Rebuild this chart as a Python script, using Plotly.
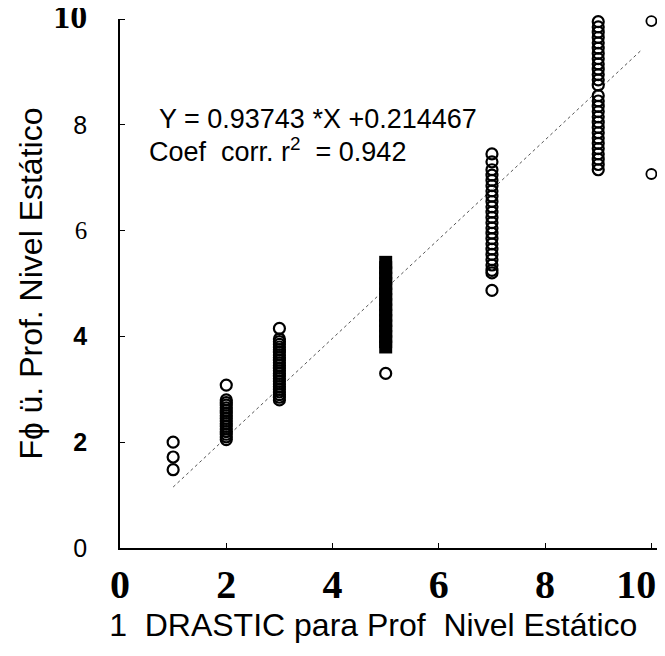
import plotly.graph_objects as go

# --- data ---
x1 = [1, 1, 1]
y1 = [2.0, 1.72, 1.48]

x2_y = [3.08, 2.80, 2.75, 2.70, 2.65, 2.60, 2.55, 2.50, 2.45, 2.40, 2.35, 2.30,
        2.25, 2.20, 2.15, 2.10, 2.05]
x3_y = [4.15, 3.95, 3.90, 3.85, 3.80, 3.75, 3.70, 3.65, 3.60, 3.55, 3.50, 3.45,
        3.40, 3.35, 3.30, 3.25, 3.20, 3.15, 3.10, 3.05, 3.00, 2.95, 2.90, 2.85, 2.80]
x5_bar = [5.40, 5.30, 5.20, 5.10, 5.00, 4.90, 4.80, 4.70, 4.60, 4.50, 4.40,
          4.30, 4.20, 4.10, 4.00, 3.90, 3.80]
x5_out = [3.30]
x7_y = [7.45, 7.30, 7.15, 7.05, 6.95, 6.85, 6.75, 6.65, 6.55, 6.45, 6.35, 6.25,
        6.15, 6.05, 5.95, 5.85, 5.75, 5.65, 5.55, 5.45, 5.35, 5.25, 5.20, 4.87]
x9_y = [9.95, 9.85, 9.75, 9.65, 9.55, 9.45, 9.35, 9.25, 9.15, 9.05, 8.95, 8.85,
        8.75, 8.55, 8.45, 8.35, 8.25, 8.15, 8.05, 7.95, 7.85, 7.75, 7.65, 7.55,
        7.45, 7.35, 7.25, 7.15]
x10_y = [9.96, 7.07]

slope = 0.93743
intercept = 0.214467
line_x = [1.0, 9.8]

xticks = [0, 2, 4, 6, 8, 10]
yticks = [0, 2, 4, 6, 8, 10]

fig = go.Figure()

circ = dict(symbol="circle-open", size=11, color="black", line=dict(width=2.2, color="black"))

fig.add_trace(go.Scatter(
    x=line_x, y=[slope * v + intercept for v in line_x], mode="lines",
    line=dict(color="#555555", width=1, dash="dot"), hoverinfo="skip"))

fig.add_trace(go.Scatter(x=x1, y=y1, mode="markers", marker=circ, cliponaxis=False))
fig.add_trace(go.Scatter(x=[2] * len(x2_y), y=x2_y, mode="markers", marker=circ, cliponaxis=False))
fig.add_trace(go.Scatter(x=[3] * len(x3_y), y=x3_y, mode="markers", marker=circ, cliponaxis=False))
fig.add_trace(go.Scatter(x=[5] * len(x5_bar), y=x5_bar, mode="markers",
    marker=dict(symbol="square", size=13, color="black"), cliponaxis=False))
fig.add_trace(go.Scatter(x=[5] * len(x5_out), y=x5_out, mode="markers", marker=circ, cliponaxis=False))
fig.add_trace(go.Scatter(x=[7] * len(x7_y), y=x7_y, mode="markers", marker=circ, cliponaxis=False))
fig.add_trace(go.Scatter(x=[9] * len(x9_y), y=x9_y, mode="markers", marker=circ, cliponaxis=False))
fig.add_trace(go.Scatter(x=[10] * len(x10_y), y=x10_y, mode="markers",
    marker=dict(symbol="circle-open", size=10, color="black", line=dict(width=1.8, color="black")),
    cliponaxis=False))

serif = "Liberation Serif"
sans = "Liberation Sans"

ytext = ["0",
         "<b>2</b>", "<b>4</b>",
         "<span style='font-family:%s'>6</span>" % serif,
         "8",
         "<span style='font-family:%s;font-size:34px'><b>10</b></span>" % serif]
xtext = ["0", "2", "4", "6", "8", "10&nbsp;&nbsp;&nbsp;"]

fig.add_annotation(x=0.70, y=8.11, xref="x", yref="y", xanchor="left", yanchor="middle",
    text="Y = 0.93743 *X +0.214467", showarrow=False,
    font=dict(family=sans, size=27, color="black"))
fig.add_annotation(x=0.51, y=7.52, xref="x", yref="y", xanchor="left", yanchor="middle",
    text="Coef  corr. r<sup>2</sup>  = 0.942", showarrow=False,
    font=dict(family=sans, size=27, color="black"))

# page body has an 8px margin, so the figure is sized to the visible window
# major ticks are invisible spacers, the short inside marks are minor ticks
fig.update_layout(
    width=657, height=648, showlegend=False,
    paper_bgcolor="white", plot_bgcolor="white",
    margin=dict(l=112, r=3, t=11, b=108),
    xaxis=dict(range=[0, 10.2], tickvals=xticks, ticktext=xtext, automargin=False,
        showgrid=False, zeroline=False, showline=True, linecolor="black", linewidth=1.5,
        ticks="inside", ticklen=5, tickcolor="black", ticklabelstandoff=0,
        ticklabeloverflow="allow",
        tickfont=dict(family=serif, size=40, color="black", weight="bold"),
        title=dict(text="1  DRASTIC para Prof  Nivel Estático&nbsp;&nbsp;&nbsp;&nbsp;", standoff=4,
                   font=dict(family=sans, size=32, color="black"))),
    yaxis=dict(range=[0, 10], tickvals=yticks, ticktext=ytext, automargin=False,
        showgrid=False, zeroline=False, showline=True, linecolor="black", linewidth=1.5,
        ticks="outside", ticklen=26, tickcolor="rgba(0,0,0,0)",
        minor=dict(tickvals=yticks, ticks="inside", ticklen=5, tickcolor="black"),
        ticklabeloverflow="allow",
        tickfont=dict(family=sans, size=25, color="black"),
        title=dict(text="F\u0278 ü. Prof. Nivel Estático", standoff=1,
                   font=dict(family=sans, size=32, color="black"))),
)

fig.write_html("out.html")
